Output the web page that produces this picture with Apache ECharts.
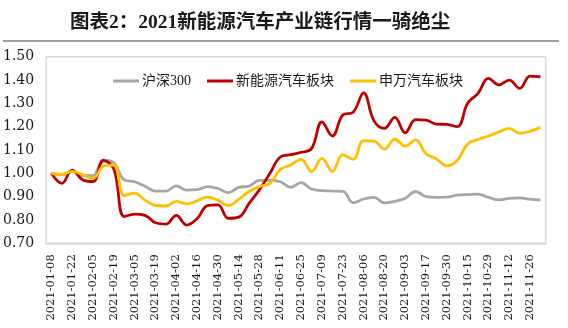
<!DOCTYPE html>
<html>
<head>
<meta charset="utf-8">
<script src="https://cdn.jsdelivr.net/npm/echarts@6/dist/echarts.min.js"></script>
<style>
html,body{margin:0;padding:0;background:#fff;}
#chart{width:568px;height:328px;}
</style>
</head>
<body>
<div id="chart"></div>
<script>
var titleText = '图表2：2021新能源汽车产业链行情一骑绝尘';
var categories = [
'2021-01-08','2021-01-15','2021-01-22','2021-01-29','2021-02-05','2021-02-10','2021-02-19','2021-02-26',
'2021-03-05','2021-03-12','2021-03-19','2021-03-26','2021-04-02','2021-04-09','2021-04-16','2021-04-23',
'2021-04-30','2021-05-07','2021-05-14','2021-05-21','2021-05-28','2021-06-04','2021-06-11','2021-06-18',
'2021-06-25','2021-07-02','2021-07-09','2021-07-16','2021-07-23','2021-07-30','2021-08-06','2021-08-13',
'2021-08-20','2021-08-27','2021-09-03','2021-09-10','2021-09-17','2021-09-24','2021-09-30','2021-10-08',
'2021-10-15','2021-10-22','2021-10-29','2021-11-05','2021-11-12','2021-11-19','2021-11-26','2021-12-03'
];
var seriesNames = ['沪深300','新能源汽车板块','申万汽车板块'];
var hs300 = [
1.00,0.995,1.008,0.99,0.99,1.057,1.045,0.972,
0.964,0.945,0.924,0.924,0.946,0.928,0.93,0.943,
0.935,0.917,0.94,0.945,0.97,0.97,0.964,0.94,
0.96,0.933,0.926,0.924,0.923,0.874,0.89,0.897,
0.873,0.88,0.893,0.922,0.90,0.897,0.898,0.907,
0.909,0.911,0.897,0.886,0.893,0.895,0.889,0.886
];
var nev = [
1.00,0.957,1.014,0.972,0.964,1.055,1.02,0.815,
0.825,0.82,0.788,0.782,0.82,0.778,0.805,0.862,
0.865,0.807,0.812,0.871,0.93,1.00,1.07,1.08,
1.09,1.106,1.22,1.16,1.25,1.262,1.345,1.225,
1.193,1.24,1.174,1.23,1.228,1.211,1.21,1.20,
1.30,1.343,1.407,1.379,1.40,1.364,1.417,1.414
];
var sw = [
1.00,0.995,1.008,0.995,0.978,1.03,1.035,0.905,
0.915,0.885,0.862,0.86,0.88,0.869,0.882,0.898,
0.885,0.862,0.888,0.922,0.944,0.957,1.017,1.036,
1.06,1.007,1.064,1.008,1.079,1.06,1.14,1.138,
1.104,1.146,1.117,1.143,1.084,1.062,1.032,1.055,
1.126,1.145,1.16,1.177,1.193,1.172,1.18,1.197
];
var yMin = 0.70, yMax = 1.50, yStep = 0.10;
var colors = ['#A6A6A6','#C00000','#FFC000'];

var chart = echarts.init(document.getElementById('chart'), null, {renderer:'canvas'});
var dataSets = [hs300, nev, sw];
var option = {
  animation: false,
  backgroundColor: '#ffffff',
  title: {
    text: titleText,
    left: 65, top: 8,
    textStyle: {fontFamily: 'Liberation Serif, "Noto Sans CJK SC"', fontSize: 19.5, fontWeight: 'bold', color: '#1a1a1a'}
  },
  graphic: [{
    type: 'line', shape: {x1: 3, y1: 41, x2: 559, y2: 41},
    style: {stroke: '#7f7f7f', lineWidth: 1.5}, silent: true
  }],
  legend: {
    data: seriesNames,
    left: 108, top: 69,
    icon: 'rect', itemWidth: 26, itemHeight: 3, itemGap: 16,
    textStyle: {fontFamily: 'Liberation Serif, "Noto Sans CJK SC"', fontSize: 14, color: '#1a1a1a', padding: [0,0,0,-2]}
  },
  grid: {
    left: 45.7, right: 22.3, top: 56.7, bottom: 84.7,
    show: true, borderColor: '#D9D9D9', borderWidth: 1.5, containLabel: false
  },
  xAxis: {
    type: 'category', data: categories, boundaryGap: true,
    axisLine: {show: true, lineStyle: {color: '#D9D9D9', width: 1.5}},
    axisTick: {show: false},
    axisLabel: {interval: 1, rotate: 90, margin: 11, fontFamily: 'DejaVu Serif', fontSize: 11.5, color: '#1a1a1a'}
  },
  yAxis: {
    type: 'value', min: yMin, max: yMax, interval: yStep,
    axisLine: {show: false}, axisTick: {show: false}, splitLine: {show: false},
    axisLabel: {margin: 12, fontFamily: 'DejaVu Serif', fontSize: 14, color: '#1a1a1a',
      formatter: function(v){ return v.toFixed(2); }}
  },
  series: seriesNames.map(function(n, i){
    return {
      name: n, type: 'line', data: dataSets[i], smooth: 0.4,
      showSymbol: false, symbol: 'none',
      lineStyle: {color: colors[i], width: 2.8},
      itemStyle: {color: colors[i]}
    };
  })
};
chart.setOption(option);
</script>
</body>
</html>
